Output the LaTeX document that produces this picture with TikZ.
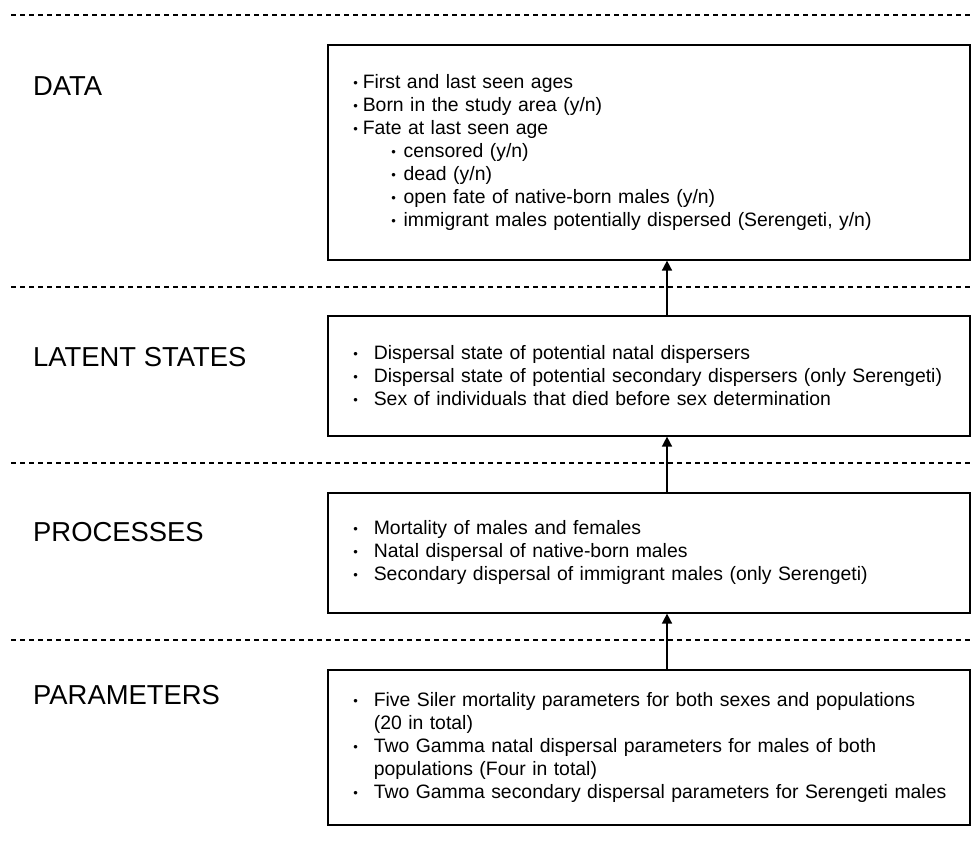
\documentclass[tikz,border=0pt]{standalone}
\usepackage{fontspec}
\setmainfont{Liberation Sans}
\usetikzlibrary{arrows.meta}
\newcommand{\itm}[2]{\makebox[#1][l]{\raisebox{1.3pt}{\fontsize{13}{0}\selectfont •}}\mbox{#2}}

\begin{document}
\begin{tikzpicture}[
        x = 1pt, y = -1pt,
        every node/.style = {
            font = \fontsize{19.4}{23}\selectfont
        },
        layer/.style = {
            anchor = base west,
            inner sep = 0pt,
            font = \fontsize{27.4}{30}\selectfont
        },
        divider/.style = {
            dash pattern = on 5pt off 4pt,
            line width = 1.2pt
        },
        panel/.style = {
            draw,
            line width = 1.6pt,
            anchor = north west,
            minimum width = 642pt,
            minimum height = #1,
            text width = 591pt,
            inner xsep = 25.5pt,
            inner ysep = 0pt,
            align = left
        },
        flow/.style = {
            -{Triangle[length = 10pt, width = 10pt]},
            line width = 1.6pt
        }]
    \useasboundingbox (0, 0) rectangle (974, 844);
    \foreach \y in {15, 287, 463, 640}
        \draw[divider] (11, \y) -- (974, \y);
    \node[layer] (lbl-data) at (33, 95) {DATA};
    \node[layer] (lbl-latent) at (33, 366) {LATENT STATES};
    \node[layer] (lbl-proc) at (33, 541) {PROCESSES};
    \node[layer] (lbl-params) at (33, 704) {PARAMETERS};
    \node[panel = 215pt] (data) at (327, 44) {
        \itm{9.5pt}{First and last seen ages}\\
        \itm{9.5pt}{Born in the study area (y/n)}\\
        \itm{9.5pt}{Fate at last seen age}\\
        \hspace*{38pt}\itm{12.3pt}{censored (y/n)}\\
        \hspace*{38pt}\itm{12.3pt}{dead (y/n)}\\
        \hspace*{38pt}\itm{12.3pt}{open fate of native-born males (y/n)}\\
        \hspace*{38pt}\itm{12.3pt}{immigrant males potentially dispersed (Serengeti, y/n)}};
    \node[panel = 120pt] (latent) at (327, 315) {
        \itm{20.5pt}{Dispersal state of potential natal dispersers}\\
        \itm{20.5pt}{Dispersal state of potential secondary dispersers (only Serengeti)}\\
        \itm{20.5pt}{Sex of individuals that died before sex determination}};
    \node[panel = 120pt] (proc) at (327, 492) {
        \itm{20.5pt}{Mortality of males and females}\\
        \itm{20.5pt}{Natal dispersal of native-born males}\\
        \itm{20.5pt}{Secondary dispersal of immigrant males (only Serengeti)}};
    \node[panel = 155pt] (params) at (327, 669) {
        \itm{20.5pt}{Five Siler mortality parameters for both sexes and populations}\\
        \hspace*{20.5pt}(20 in total)\\
        \itm{20.5pt}{Two Gamma natal dispersal parameters for males of both}\\
        \hspace*{20.5pt}populations (Four in total)\\
        \itm{20.5pt}{Two Gamma secondary dispersal parameters for Serengeti males}};
    \coordinate (stem) at (667, 0);
    \draw[flow] (params.north -| stem) -- (proc.south -| stem);
    \draw[flow] (proc.north -| stem) -- (latent.south -| stem);
    \draw[flow] (latent.north -| stem) -- (data.south -| stem);
\end{tikzpicture}
\end{document}
